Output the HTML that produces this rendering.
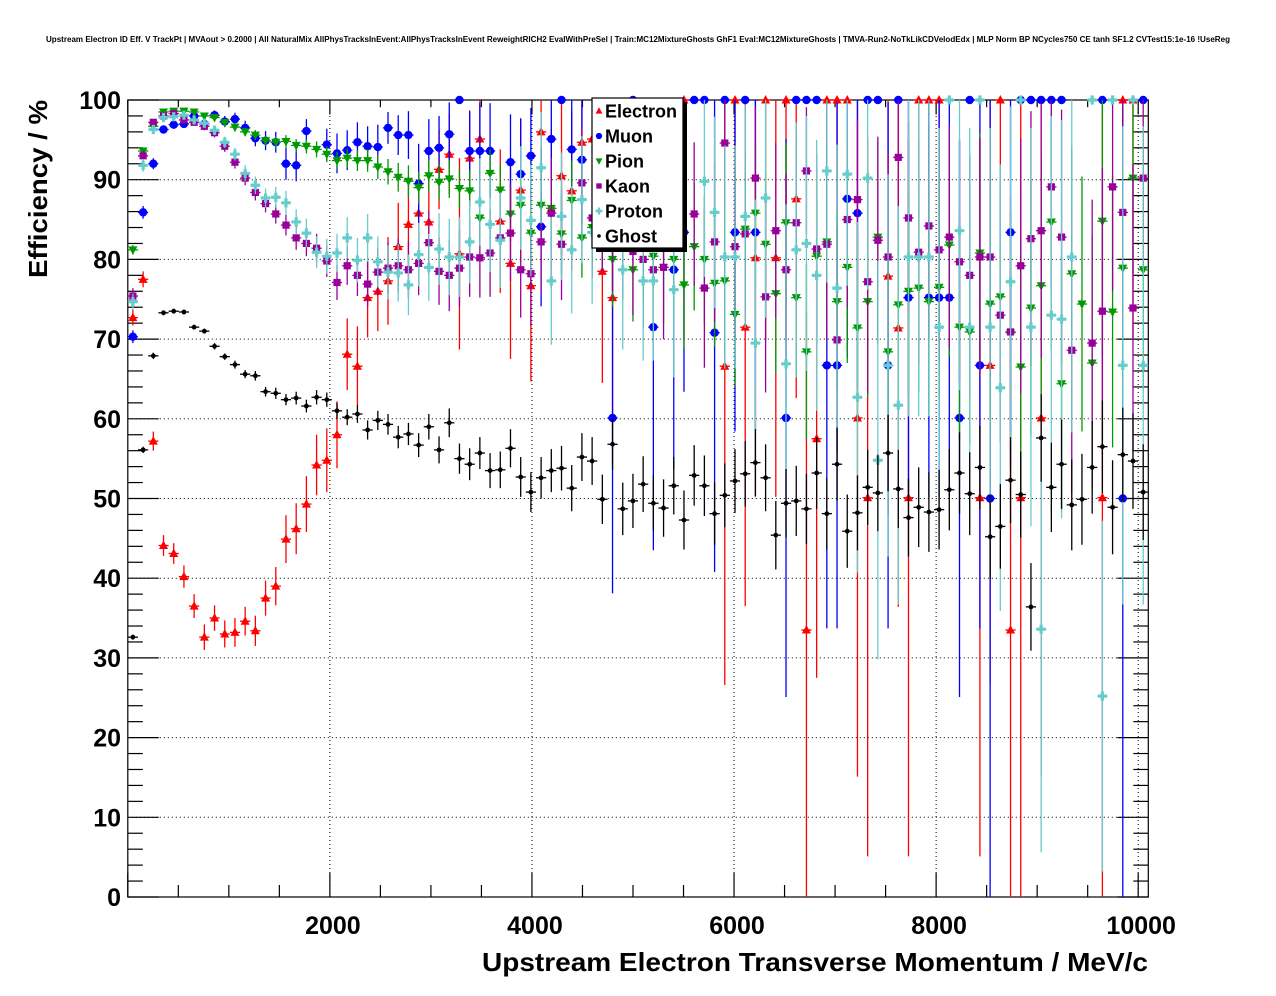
<!DOCTYPE html>
<html><head><meta charset="utf-8"><title>Upstream Electron ID Efficiency</title>
<style>
html,body{margin:0;padding:0;background:#fff;}
svg{display:block;font-family:"Liberation Sans",Arial,sans-serif;}
</style></head>
<body>
<svg id="chart" width="1276" height="996" viewBox="0 0 1276 996" xmlns="http://www.w3.org/2000/svg">
<rect x="0" y="0" width="1276" height="996" fill="#ffffff"/>
<text x="638" y="42" text-anchor="middle" font-size="8" font-weight="bold" textLength="1184" lengthAdjust="spacingAndGlyphs">Upstream Electron ID Eff. V TrackPt | MVAout &gt; 0.2000 | All NaturalMix AllPhysTracksInEvent:AllPhysTracksInEvent ReweightRICH2 EvalWithPreSel | Train:MC12MixtureGhosts GhF1 Eval:MC12MixtureGhosts | TMVA-Run2-NoTkLikCDVelodEdx | MLP Norm BP NCycles750 CE tanh SF1.2 CVTest15:1e-16 !UseReg</text>
<g id="grid"></g>
<g id="axes"></g>
<g id="series"></g>
<text x="47" y="189" transform="rotate(-90 47 189)" text-anchor="middle" font-size="26" font-weight="bold" textLength="178" lengthAdjust="spacingAndGlyphs">Efficiency / %</text>
<text x="482" y="971" font-size="26" font-weight="bold" textLength="666" lengthAdjust="spacingAndGlyphs">Upstream Electron Transverse Momentum / MeV/c</text>
<g id="legend"></g>
</svg>
<script>
const binWidth = 101;
const xTickValues = [2000, 4000, 6000, 8000, 10000];
const yTickValues = [0, 10, 20, 30, 40, 50, 60, 70, 80, 90, 100];
const seriesNames = ["Electron", "Muon", "Pion", "Kaon", "Proton", "Ghost"];

const electronEff = [72.7,77.5,57.2,44.1,43.1,40.2,36.5,32.6,35.0,33.0,33.2,34.6,33.4,37.5,39.0,44.9,46.2,49.3,54.2,54.8,58.0,68.1,66.6,75.2,76.0,77.3,81.6,84.4,85.8,84.7,91.3,93.2,80.7,92.7,95.1,null,84.8,79.5,88.7,76.7,96.0,86.4,90.5,88.6,94.7,95.1,78.5,75.2,null,null,null,null,null,null,100,null,null,null,66.6,100,71.5,80.2,100,80.2,100,87.6,33.5,57.5,100,100,100,60.1,50.1,null,77.9,71.4,50.1,100,100,100,null,null,null,50.1,66.7,100,33.5,50.1,null,60.1,null,null,null,null,null,50.1,null,100,100,null];
const electronErr = [1,1,1.2,1.3,1.3,1.4,1.5,1.6,1.6,1.7,1.8,1.8,1.9,2.2,2.4,3,3.2,3.5,3.8,4,4.2,4.5,5,5,5,5.5,5.5,6,6,6.5,5,5,12,6,5,0,9,12,9,12,6,10,10,10,7,6,14,16,0,0,0,0,0,0,30,0,0,0,40,30,35,30,30,30,30,25,40,30,30,30,30,45,45,0,30,35,45,30,30,30,0,0,0,45,40,30,45,50,0,45,0,0,0,0,0,50,0,30,30,0];

const muonEff = [70.3,85.9,92.0,96.3,96.9,97.0,98.0,97.0,98.1,97.3,97.6,96.5,95.2,94.9,94.7,92.0,91.8,96.1,null,94.4,93.3,93.7,94.7,94.2,94.1,96.5,95.6,95.6,89.5,93.6,94.0,95.7,100,93.6,93.6,93.6,null,92.2,90.7,93.0,84.1,95.1,100,93.8,92.5,null,null,60.1,null,100,null,71.5,null,78.7,83.4,100,100,70.8,100,83.4,100,83.4,null,null,60.1,100,100,100,66.7,66.7,87.6,85.8,100,100,66.7,100,75.2,null,75.2,75.2,75.2,60.1,100,66.7,50.0,null,83.4,100,100,100,100,100,null,null,null,100,null,50.0,null,100];
const muonErr = [0.8,0.8,0.7,0.5,0.5,0.5,0.5,0.6,0.6,0.7,0.8,0.9,1,1.2,1.3,2,2,1.5,0,2,2.5,2.5,2.5,2.5,2.8,2,2.5,3,5,4,4,4,0,5,6,6,0,6,7,6,10,6,0,8,8,0,0,22,0,0,0,28,0,25,20,0,0,30,0,25,0,25,0,0,35,0,0,0,33,33,20,22,0,0,33,0,25,0,25,25,25,35,0,33,50,0,25,0,0,0,0,0,0,0,0,0,0,50,0,0];

const pionEff = [81.2,93.6,96.7,98.5,98.6,98.6,98.5,98.0,97.8,97.2,96.6,96.0,95.6,94.9,94.7,94.8,94.3,94.2,93.8,93.2,92.4,92.7,92.4,92.4,91.6,91.0,90.3,89.8,89.0,90.5,89.7,90.1,88.9,88.6,85.2,90.8,88.7,85.7,86.8,83.3,86.8,86.4,83.2,87.4,82.7,84.0,85.0,80.0,null,78.7,82.0,80.4,79.0,80.0,76.8,81.6,80.0,77.0,77.3,73.1,83.8,85.8,81.9,75.7,84.6,75.2,68.4,80.4,82.2,74.7,79.0,71.4,74.7,82.8,68.4,74.3,76.0,76.4,74.7,76.5,81.8,71.5,70.9,80.8,74.4,75.3,70.8,66.5,73.9,76.7,84.7,64.4,78.2,74.4,67.0,84.8,73.4,78.9,90.2,78.7];
const pionErr = [0.6,0.4,0.3,0.3,0.3,0.3,0.3,0.3,0.4,0.4,0.5,0.5,0.6,0.6,0.7,0.8,0.8,0.9,1,1,1.1,1.2,1.3,1.4,1.5,1.6,1.8,2,2,2,2.2,2.4,2.5,2.6,3,3,3.2,3.5,3.5,4,4,4.5,5,5,5,5,6,6,0,6.5,7,7,7,7.5,8,8,8,8,9,9,9,9,9,10,10,10,11,11,11,11,12,12,12,12,13,13,13,13,14,14,14,14,14,15,15,15,15,16,16,16,16,16,16,16,16,17,17,17,12,15];

const kaonEff = [75.4,93.0,97.2,98.0,98.3,97.5,97.2,96.7,95.9,94.2,92.2,90.2,88.4,87.0,85.7,84.3,82.7,82.0,81.4,79.8,77.1,79.2,78.0,76.9,78.4,78.9,79.2,78.7,79.5,82.1,78.5,78.0,78.9,80.3,80.2,80.8,82.7,83.3,78.7,78.2,82.2,85.8,81.9,null,89.6,85.2,86.0,84.0,83.0,81.0,80.0,78.7,79.0,null,null,85.7,76.4,82.2,94.6,81.6,83.2,90.2,75.3,83.6,78.7,84.6,91.1,81.3,81.9,69.9,85.0,87.5,77.2,82.4,80.3,92.8,85.2,80.9,84.2,81.2,82.8,79.7,78.0,80.3,80.3,73.0,70.9,79.2,82.6,83.6,89.1,82.8,68.6,null,69.5,73.5,89.1,85.9,73.9,90.2];
const kaonErr = [1,0.6,0.4,0.3,0.3,0.4,0.4,0.5,0.6,0.7,0.8,0.9,1,1.1,1.2,1.3,1.5,1.6,1.8,2,2.2,2.4,2.6,2.8,3,3.2,3.4,3.6,4,4,4.2,4.5,4.8,5,5,5.5,5.5,6,6,6.5,6.5,7,7,0,7,7.5,7.5,8,8,8,8.5,9,9,0,0,9,10,10,8,10,10,9,12,11,12,11,8,12,12,14,11,10,14,13,13,10,12,14,13,14,14,15,15,15,15,16,17,16,16,16,13,16,18,0,18,18,13,15,18,12];

const protonEff = [74.7,91.8,96.3,97.8,97.9,98.1,97.5,97.1,96.2,94.7,93.2,90.8,89.3,87.7,87.8,87.1,84.7,83.3,80.9,80.4,80.8,82.7,79.9,82.7,79.7,78.4,78.3,76.8,80.6,79.0,81.3,80.3,80.3,82.2,87.2,84.4,82.4,null,87.7,84.9,91.5,77.3,85.4,81.2,87.5,83.4,null,null,78.7,null,77.3,77.3,null,76.2,null,null,89.8,85.9,80.3,80.3,85.4,69.5,87.7,null,66.9,81.2,82.0,78.0,91.1,76.4,90.7,62.7,90.2,54.8,66.7,61.7,80.3,80.3,80.3,71.5,100,83.6,71.5,100,71.5,63.9,77.2,100,71.5,33.6,73.0,72.5,80.3,null,100,25.2,100,66.7,100,66.7];
const protonErr = [1,0.8,0.5,0.4,0.4,0.4,0.5,0.5,0.6,0.7,0.8,1,1.1,1.2,1.3,1.5,1.6,1.8,2,2.2,2.4,2.6,2.8,3,3.2,3.4,3.6,3.8,4,4.2,4.5,4.8,5,5.2,5.5,6,6,0,6.5,7,7,8,8,8,8,9,0,0,10,0,10,10,0,11,0,0,12,12,14,14,14,18,15,0,20,16,16,17,14,18,14,22,14,25,24,25,20,20,20,25,0,20,25,0,25,28,22,0,25,28,25,25,22,0,0,22,0,30,0,30];

const ghostEff = [32.6,56.1,67.9,73.3,73.5,73.4,71.5,71.0,69.1,67.8,66.8,65.6,65.4,63.4,63.2,62.4,62.6,61.6,62.7,62.4,61.0,60.2,60.6,58.6,59.8,59.3,57.7,58.1,56.7,59.0,56.1,59.5,55.0,54.3,55.7,53.5,53.6,56.3,52.7,50.8,52.6,53.5,53.8,51.3,55.2,54.7,49.9,56.8,48.7,49.7,51.8,49.4,48.8,51.6,47.3,52.9,51.6,48.1,50.4,52.2,53.1,54.5,52.6,45.4,49.4,49.7,48.7,53.2,48.1,54.3,45.9,48.2,51.4,50.7,55.7,51.2,47.6,48.9,48.3,48.6,51.1,53.2,50.6,53.9,45.2,46.5,52.3,50.5,36.4,57.6,51.4,54.3,49.2,49.9,53.9,56.5,48.9,55.5,54.7,50.8];
const ghostErr = [0.3,0.4,0.4,0.3,0.3,0.3,0.3,0.3,0.4,0.4,0.5,0.5,0.6,0.6,0.7,0.7,0.8,0.8,0.9,0.9,1,1,1.1,1.2,1.2,1.3,1.4,1.4,1.5,1.6,1.7,1.8,1.9,2,2,2.2,2.3,2.4,2.5,2.5,2.6,2.7,2.8,2.9,3,3,3.1,3.2,3.3,3.4,3.5,3.5,3.6,3.6,3.7,3.8,3.8,3.9,4,4,4.1,4.2,4.2,4.3,4.3,4.4,4.4,4.5,4.5,4.6,4.6,4.7,4.7,4.8,4.8,4.9,4.9,5,5,5,5.1,5.1,5.2,5.2,5.3,5.3,5.4,5.4,5.5,5.5,5.6,5.6,5.7,5.7,5.8,5.8,5.9,5.9,6,6];

const X0 = 127.8, X1 = 1148.3, Y0 = 897, Y1 = 100, xMin = 0, xMax = 10100, yMin = 0, yMax = 100;
function xs(v){ return X0 + (v - xMin) / (xMax - xMin) * (X1 - X0); }
function ys(v){ return Y0 - (v - yMin) / (yMax - yMin) * (Y0 - Y1); }
const NS = "http://www.w3.org/2000/svg";
function mk(tag, attrs, parent){
  const e = document.createElementNS(NS, tag);
  for (const k in attrs) e.setAttribute(k, attrs[k]);
  parent.appendChild(e);
  return e;
}
const grid = document.getElementById('grid');
const axes = document.getElementById('axes');
const seriesG = document.getElementById('series');
const legend = document.getElementById('legend');

xTickValues.forEach(v => {
  const l = mk('line', {x1: xs(v), x2: xs(v), y1: Y1, y2: Y0, stroke: '#000', 'stroke-width': 1, 'stroke-dasharray': '1,3'}, grid);
  
  
});
yTickValues.forEach(v => {
  if (v === yMin || v === yMax) return;
  const l = mk('line', {x1: X0, x2: X1, y1: ys(v), y2: ys(v), stroke: '#000', 'stroke-width': 1, 'stroke-dasharray': '1,3'}, grid);
  
  
});

const frame = mk('rect', {x: X0, y: Y1, width: X1 - X0, height: Y0 - Y1, fill: 'none', stroke: '#000', 'stroke-width': 1.2}, axes);



for (let v = 0; v <= xMax; v += 500) {
  const major = (v % 2000 === 0);
  const len = major ? 24 : 12;
  const t1 = mk('line', {x1: xs(v), x2: xs(v), y1: Y0, y2: Y0 - len, stroke: '#000', 'stroke-width': 1.2}, axes);
  
  
  const t2 = mk('line', {x1: xs(v), x2: xs(v), y1: Y1, y2: Y1 + len * 0.6, stroke: '#000', 'stroke-width': 1.2}, axes);
  
  
}
xTickValues.forEach(v => {
  const t = mk('text', {x: xs(v) + 3, y: 934, 'text-anchor': 'middle', 'font-size': 25, 'font-weight': 'bold'}, axes);
  t.textContent = String(v);
  
  
});
for (let v = 0; v <= yMax; v += 2) {
  const major = (v % 10 === 0);
  const len = major ? 31 : 15;
  const t1 = mk('line', {x1: X0, x2: X0 + len, y1: ys(v), y2: ys(v), stroke: '#000', 'stroke-width': 1.2}, axes);
  
  
  const t2 = mk('line', {x1: X1, x2: X1 - len, y1: ys(v), y2: ys(v), stroke: '#000', 'stroke-width': 1.2}, axes);
  
  
}
yTickValues.forEach(v => {
  const t = mk('text', {x: 121, y: ys(v) + 9, 'text-anchor': 'end', 'font-size': 25, 'font-weight': 'bold'}, axes);
  t.textContent = String(v);
  
  
});

function drawMarker(kind, color, cx, cy, parent, sc){
  const k = sc || 1;
  let m;
  if (kind === 'tri-up') m = mk('polygon', {points: `${cx},${cy-5*k} ${cx-4.5*k},${cy+3.5*k} ${cx+4.5*k},${cy+3.5*k}`, fill: color}, parent);
  else if (kind === 'circle') m = mk('circle', {cx: cx, cy: cy, r: 4.2*k, fill: color}, parent);
  else if (kind === 'tri-down') m = mk('polygon', {points: `${cx},${cy+5*k} ${cx-4.5*k},${cy-3.5*k} ${cx+4.5*k},${cy-3.5*k}`, fill: color}, parent);
  else if (kind === 'square') m = mk('rect', {x: cx - 3.6*k, y: cy - 3.6*k, width: 7.2*k, height: 7.2*k, fill: color}, parent);
  else if (kind === 'cross') m = mk('path', {d: `M${cx-4.6*k},${cy-1.6*k}h${3*k}v${-3*k}h${3.2*k}v${3*k}h${3*k}v${3.2*k}h${-3*k}v${3*k}h${-3.2*k}v${-3*k}h${-3*k}z`, fill: color}, parent);
  else m = mk('circle', {cx: cx, cy: cy, r: 2.4*k, fill: color}, parent);
  return m;
}

const seriesStyle = [
  {vals: electronEff, errs: electronErr, color: '#ff0000', kind: 'tri-up'},
  {vals: muonEff, errs: muonErr, color: '#0000ff', kind: 'circle'},
  {vals: pionEff, errs: pionErr, color: '#009900', kind: 'tri-down'},
  {vals: kaonEff, errs: kaonErr, color: '#990099', kind: 'square'},
  {vals: protonEff, errs: protonErr, color: '#66cccc', kind: 'cross'},
  {vals: ghostEff, errs: ghostErr, color: '#000000', kind: 'dot'}
];

seriesStyle.forEach((s, si) => {
  const g = mk('g', {}, seriesG);
  
  
  s.vals.forEach((v, i) => {
    if (v === null || v === undefined) return;
    const xc = binWidth * (i + 0.5);
    const e = s.errs[i] || 0;
    const cx = xs(xc), cy = ys(v);
    const pg = mk('g', {}, g);
    
    
    const lo = Math.max(yMin, v - e), hi = Math.min(yMax, v + e);
    if (hi > lo) mk('line', {x1: cx, x2: cx, y1: ys(lo), y2: ys(hi), stroke: s.color, 'stroke-width': 1.3}, pg);
    mk('line', {x1: xs(xc - binWidth / 2), x2: xs(xc + binWidth / 2), y1: cy, y2: cy, stroke: s.color, 'stroke-width': 1.3}, pg);
    drawMarker(s.kind, s.color, cx, cy, pg, 1);
  });
});

const LX = 592, LY = 98, LW = 91, LH = 150;
const sh = mk('rect', {x: LX + 4, y: LY + 4, width: LW, height: LH, fill: '#000'}, legend);


const box = mk('rect', {x: LX, y: LY, width: LW, height: LH, fill: '#fff', stroke: '#000', 'stroke-width': 1.2}, legend);


seriesStyle.forEach((s, si) => {
  const ey = 111 + si * 25;
  const eg = mk('g', {}, legend);
  
  
  drawMarker(s.kind, s.color, 599, ey, eg, 0.75);
  const t = mk('text', {x: 605, y: ey + 6.5, 'font-size': 18, 'font-weight': 'bold'}, eg);
  t.textContent = seriesNames[si];
});
</script>
</body></html>
